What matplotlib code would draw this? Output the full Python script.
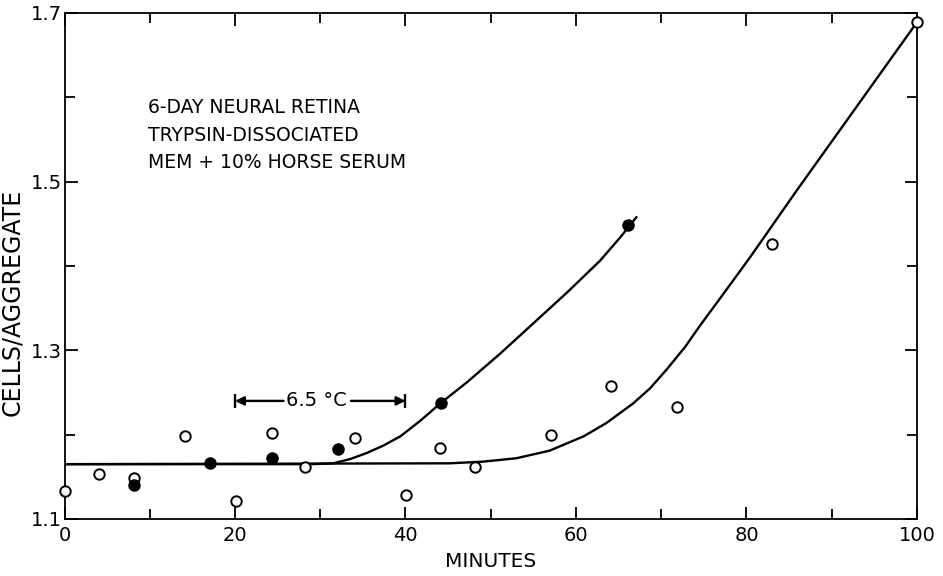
import matplotlib
matplotlib.use("Agg")
import matplotlib.pyplot as plt

# ---- data ----
open_x = [0, 4.1, 8.15, 14.1, 20.1, 24.3, 28.2, 34.1, 40.1, 44.1, 48.1, 57.1, 64.1, 71.9, 83.0, 100]
open_y = [1.133, 1.153, 1.149, 1.198, 1.121, 1.202, 1.162, 1.196, 1.128, 1.184, 1.162, 1.200, 1.258, 1.233, 1.426, 1.689]

filled_x = [8.15, 17.1, 24.3, 32.1, 44.2, 66.1]
filled_y = [1.140, 1.166, 1.172, 1.183, 1.238, 1.448]

# hand-drawn fitted curves (read as points along the drawn line)
curve1_x = [0, 29, 31.5, 33.5, 35.4, 37.4, 39.4, 41.8, 44.2, 47.2, 51.1, 55, 59, 62.8, 65.2, 67.1]
curve1_y = [1.165, 1.165, 1.166, 1.171, 1.178, 1.187, 1.198, 1.217, 1.238, 1.262, 1.296, 1.332, 1.369, 1.406, 1.434, 1.458]

curve2_x = [0, 45.2, 49.1, 53.0, 56.9, 60.9, 63.6, 66.7, 68.7, 70.7, 72.8, 74.6, 76.5, 80.4, 86.0, 91.8, 100]
curve2_y = [1.165, 1.166, 1.168, 1.172, 1.181, 1.198, 1.214, 1.237, 1.255, 1.278, 1.304, 1.330, 1.356, 1.410, 1.491, 1.573, 1.689]

bar_x = [20, 40]
bar_y = 1.240
bar_label = "6.5 °C"

info_lines = ["6-DAY NEURAL RETINA", "TRYPSIN-DISSOCIATED", "MEM + 10% HORSE SERUM"]

x_major = [0, 20, 40, 60, 80, 100]
x_minor = [10, 30, 50, 70, 90]
y_labeled = [1.1, 1.3, 1.5, 1.7]
y_minor = [1.2, 1.4, 1.6]

plt.rcParams['font.family'] = ['DejaVu Sans']

fig = plt.figure(figsize=(9.43, 5.76), dpi=100)
ax = fig.add_axes([0.0684, 0.099, 0.9040, 0.8785])

ax.plot(curve1_x, curve1_y, color='k', lw=1.7, solid_capstyle='round', solid_joinstyle='round', zorder=2)
ax.plot(curve2_x, curve2_y, color='k', lw=1.7, solid_capstyle='round', solid_joinstyle='round', zorder=2)
ax.plot(open_x, open_y, 'o', ms=7.5, mfc='white', mec='k', mew=1.4, linestyle='none', zorder=3, clip_on=False)
ax.plot(filled_x, filled_y, 'o', ms=8, mfc='k', mec='k', linestyle='none', zorder=3, clip_on=False)

# 6.5 C bar
ax.text(29.6, bar_y, bar_label, ha='center', va='center', fontsize=14)
ax.annotate('', xy=(bar_x[0], bar_y), xytext=(25.7, bar_y),
            arrowprops=dict(arrowstyle='-|>', lw=1.7, color='k', mutation_scale=13, shrinkA=0, shrinkB=0))
ax.annotate('', xy=(bar_x[1], bar_y), xytext=(33.6, bar_y),
            arrowprops=dict(arrowstyle='-|>', lw=1.7, color='k', mutation_scale=13, shrinkA=0, shrinkB=0))
ax.plot(bar_x, [bar_y, bar_y], marker='|', ms=10, mew=1.7, color='k', linestyle='none')

info_y = [1.588, 1.555, 1.523]
for line, yy in zip(info_lines, info_y):
    ax.text(9.8, yy, line, ha='left', va='center', fontsize=13.5)

ax.set_xlim(0, 100)
ax.set_ylim(1.1, 1.7)
ax.set_xticks(x_major)
ax.set_xticks(x_minor, minor=True)
ax.set_yticks(y_labeled)
ax.set_yticks(y_minor, minor=True)
ax.set_xticklabels([str(v) for v in x_major], fontsize=14)
ax.set_yticklabels([f"{v:.1f}" for v in y_labeled], fontsize=14)
ax.tick_params(axis='both', which='major', direction='in', length=9, width=1.3, top=True, right=True)
ax.tick_params(axis='both', which='minor', direction='in', length=7, width=1.3, top=True, right=True)
ax.tick_params(axis='x', which='major', pad=5)
ax.tick_params(axis='y', which='major', pad=2)
for s in ax.spines.values():
    s.set_linewidth(1.3)

ax.set_xlabel('MINUTES', fontsize=14.5)
ax.xaxis.set_label_coords(0.5, -0.065)
ax.set_ylabel('CELLS/AGGREGATE', fontsize=17)
ax.yaxis.set_label_coords(-0.047, 0.429)

fig.savefig('out.png', dpi=100)
